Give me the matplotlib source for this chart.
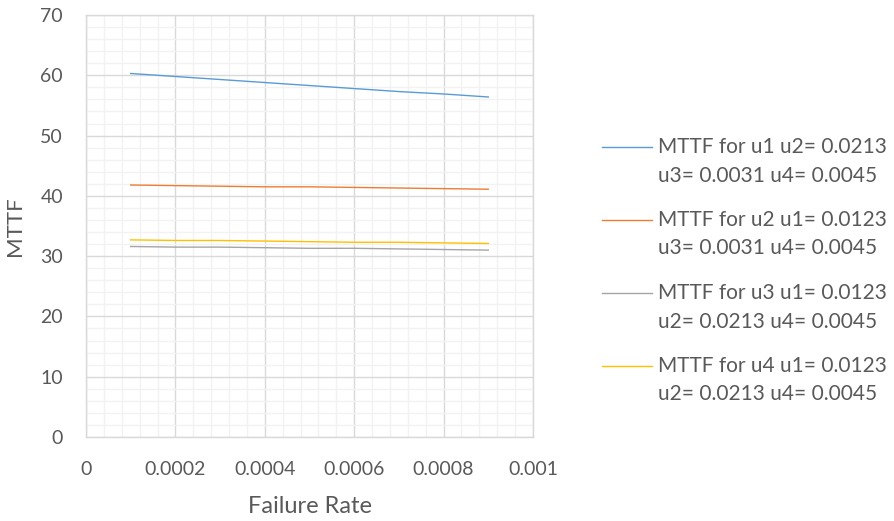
import matplotlib.pyplot as plt
from matplotlib.lines import Line2D
from matplotlib.ticker import MultipleLocator

plt.rcParams['font.family'] = ['Lato', 'DejaVu Sans']

# Failure rate values and MTTF for each unit
failure_rate = [0.0001, 0.0002, 0.0003, 0.0004, 0.0005, 0.0006, 0.0007, 0.0008, 0.0009]
mttf_u1 = [60.3, 59.8, 59.3, 58.8, 58.3, 57.8, 57.3, 56.9, 56.4]
mttf_u2 = [41.8, 41.7, 41.6, 41.5, 41.5, 41.4, 41.3, 41.2, 41.1]
mttf_u3 = [31.6, 31.5, 31.5, 31.4, 31.3, 31.3, 31.2, 31.1, 31.0]
mttf_u4 = [32.7, 32.6, 32.6, 32.5, 32.4, 32.3, 32.3, 32.2, 32.1]

labels = [
    "MTTF for u1 u2= 0.0213\nu3= 0.0031 u4= 0.0045",
    "MTTF for u2 u1= 0.0123\nu3= 0.0031 u4= 0.0045",
    "MTTF for u3 u1= 0.0123\nu2= 0.0213 u4= 0.0045",
    "MTTF for u4 u1= 0.0123\nu2= 0.0213 u4= 0.0045",
]
colors = ["#5B9BD5", "#ED7D31", "#A5A5A5", "#FFC000"]
text_color = "#595959"

W, H = 894, 521
fig = plt.figure(figsize=(W / 100, H / 100), dpi=100)
ax = fig.add_axes([86 / W, 84 / H, 447 / W, 422 / H])

series = [mttf_u1, mttf_u2, mttf_u3, mttf_u4]
for ys, c in zip(series, colors):
    ax.plot(failure_rate, ys, color=c, linewidth=1.0)

ax.set_xlim(0, 0.001)
ax.set_ylim(0, 70)
ax.xaxis.set_minor_locator(MultipleLocator(0.00004))
ax.yaxis.set_major_locator(MultipleLocator(10))
ax.yaxis.set_minor_locator(MultipleLocator(2))
ax.set_xticks([0, 0.0002, 0.0004, 0.0006, 0.0008, 0.001])
ax.set_xticklabels(["0", "0.0002", "0.0004", "0.0006", "0.0008", "0.001"])

ax.grid(which="major", color="#D9D9D9", linewidth=1.0)
ax.grid(which="minor", color="#F2F2F2", linewidth=1.0)
ax.set_axisbelow(True)
for s in ax.spines.values():
    s.set_color("#D9D9D9")
    s.set_linewidth(1.0)

ax.tick_params(which="both", length=0, colors=text_color, labelsize=14)
ax.tick_params(axis="x", pad=17)
ax.tick_params(axis="y", pad=16.5)

ax.set_xlabel("Failure Rate", fontsize=17, color=text_color, labelpad=13)
ax.set_ylabel("MTTF", fontsize=16, color=text_color, labelpad=11)

# legend drawn by hand: short line + two text rows per entry
for i, (c, lab) in enumerate(zip(colors, labels)):
    y0 = 147 + 73 * i
    fig.add_artist(Line2D([602 / W, 652 / W], [1 - y0 / H, 1 - y0 / H],
                          color=c, linewidth=1.0))
    for j, row in enumerate(lab.split("\n")):
        fig.text(658 / W, 1 - (y0 + 28.5 * j) / H, row, fontsize=15,
                 color=text_color, va="center", ha="left")

fig.savefig("out.png", dpi=100)
